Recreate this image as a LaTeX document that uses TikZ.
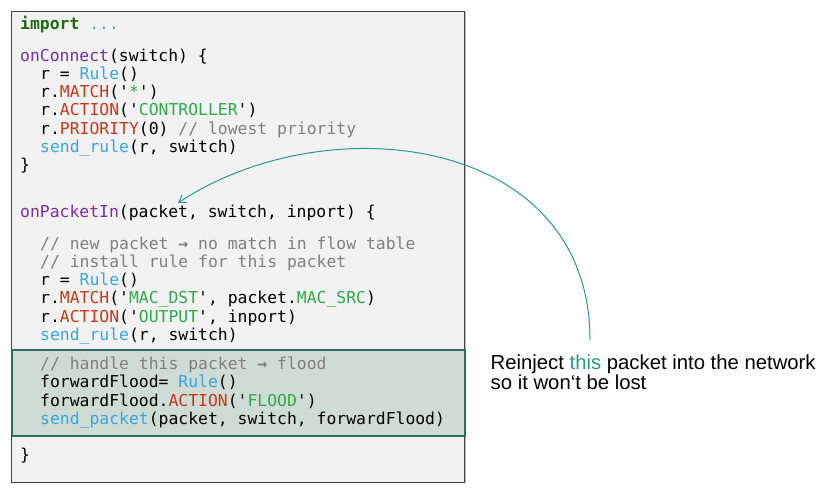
\documentclass[tikz,border=0pt]{standalone}
\usepackage{fontspec}
\setmainfont{Liberation Sans}
\newfontfamily\codefont{DejaVu Sans Mono}
\usetikzlibrary{arrows.meta}
\definecolor{kwgreen}{HTML}{1E6B0A}
\definecolor{dotblue}{HTML}{3AA8E8}
\definecolor{purp}{HTML}{7A2FA3}
\definecolor{fnblue}{HTML}{38A5E0}
\definecolor{mred}{HTML}{C4391D}
\definecolor{strgreen}{HTML}{2EAA4A}
\definecolor{cmt}{HTML}{808080}
\definecolor{tealc}{HTML}{2A9987}
\definecolor{boxfill}{HTML}{F2F2F2}
\definecolor{boxline}{HTML}{404040}
\definecolor{hlfill}{HTML}{CEDCD5}
\definecolor{hlline}{HTML}{2B6E5C}
\newcommand\myq{\char"0027\relax}
\newcommand\ckw[1]{\textcolor{kwgreen}{\bfseries #1}}
\newcommand\cpu[1]{\textcolor{purp}{#1}}
\newcommand\cfn[1]{\textcolor{fnblue}{#1}}
\newcommand\cme[1]{\textcolor{mred}{#1}}
\newcommand\cst[1]{\textcolor{strgreen}{#1}}
\newcommand\ccm[1]{\textcolor{cmt}{#1}}
\newcommand\carr{{\bfseries →}}
\begin{document}
\begin{tikzpicture}[x=1pt,y=-1pt,
  code/.style={anchor=base west, inner sep=0pt, font=\codefont\fontsize{16.4}{18}\selectfont},
  note/.style={anchor=base west, inner sep=0pt, align=left, font=\fontsize{20.3}{18.2}\selectfont},
  link/.style={draw=tealc, line width=1pt, -{Straight Barb[length=7pt,width=9pt,line width=1pt]}}]
\useasboundingbox (0,0) rectangle (835,494);
% shadow
\fill[black!25] (12.5,12.5) rectangle (465.8,483.3);
\node (codebox) [draw=boxline, line width=0.9pt, fill=boxfill, anchor=north west,
  minimum width=453pt, minimum height=470.7pt, inner sep=0pt] at (11,11) {};
\node (hlbox) [draw=hlline, line width=2pt, fill=hlfill, anchor=north west,
  minimum width=453.3pt, minimum height=85.7pt, inner sep=0pt] at (11,349.3) {};
% code
\begin{scope}[yshift=-1.3pt]
\node[code] (l1) at (20,28) {\ckw{import} \textcolor{dotblue}{...}};
\node[code] (l2) at (20,60) {\cpu{onConnect}(switch) \{};
\node[code] (l3) at (40,78.2) {r = \cfn{Rule}()};
\node[code] (l4) at (40,96.4) {r.\cme{MATCH}(\myq\cst{*}\myq)};
\node[code] (l5) at (40,114.6) {r.\cme{ACTION}(\myq\cst{CONTROLLER}\myq)};
\node[code] (l6) at (40,132.8) {r.\cme{PRIORITY}(0) \ccm{// lowest priority}};
\node[code] (l7) at (40,151) {\cfn{send\_rule}(r, switch)};
\node[code] (l8) at (20,169.2) {\}};
\node[code] (l9) at (20,216.7) {\cpu{onPacketIn}(packet, switch, inport) \{};
\node[code] (l10) at (40,248) {\ccm{// new packet \carr{} no match in flow table}};
\node[code] (l11) at (40,266.2) {\ccm{// install rule for this packet}};
\node[code] (l12) at (40,284.4) {r = \cfn{Rule}()};
\node[code] (l13) at (40,302.6) {r.\cme{MATCH}(\myq\cst{MAC\_DST}\myq, packet.\cst{MAC\_SRC})};
\node[code] (l14) at (40,320.8) {r.\cme{ACTION}(\myq\cst{OUTPUT}\myq, inport)};
\node[code] (l15) at (40,339) {\cfn{send\_rule}(r, switch)};
\node[code] (l16) at (40,368.3) {\ccm{// handle this packet \carr{} flood}};
\node[code] (l17) at (40,386.5) {forwardFlood= \cfn{Rule}()};
\node[code] (l18) at (40,404.7) {forwardFlood.\cme{ACTION}(\myq\cst{FLOOD}\myq)};
\node[code] (l19) at (40,422.9) {\cfn{send\_packet}(packet, switch, forwardFlood)};
\node[code] (l20) at (20,459.5) {\}};
\end{scope}
% note
\node[note] (note) at (490.5,389.5) {Reinject \textcolor{tealc}{this} packet into the network\\so it won‘t be lost};
\coordinate (start) at (590,340);
\coordinate (tip) at (178,203);
\draw[link] (start) .. controls (590,135) and (327,104) .. (tip);
\end{tikzpicture}
\end{document}
